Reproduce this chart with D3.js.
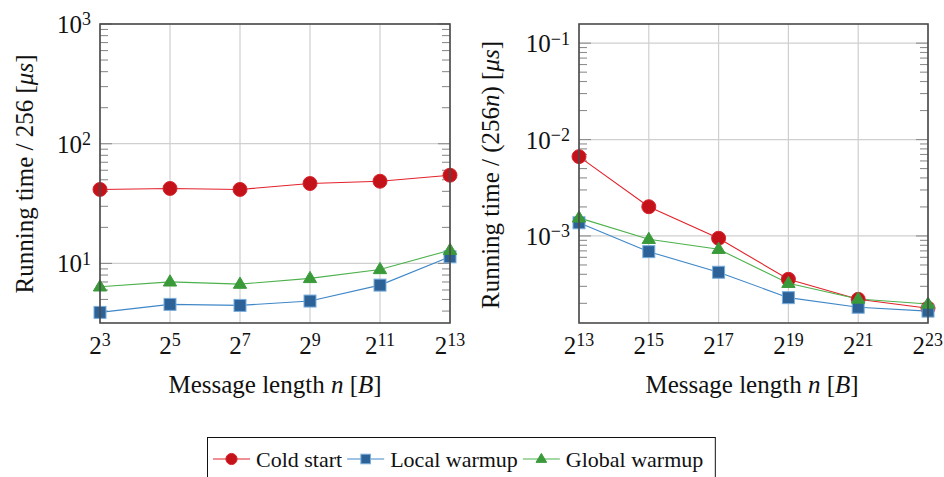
<!DOCTYPE html>
<html>
<head>
<meta charset="utf-8">
<script src="https://cdn.jsdelivr.net/npm/d3@7"></script>
<style>
  html, body { margin: 0; padding: 0; background: #fff; }
  svg { display: block; }
</style>
</head>
<body>
<svg id="chart" width="944" height="477"></svg>
<script>
// Series names
const seriesNames = ["Cold start", "Local warmup", "Global warmup"];

// Left panel: short messages, time per 256 messages [µs]
const leftSizes = [8, 32, 128, 512, 2048, 8192];
const leftCold   = [41.5, 42.3, 41.5, 46.5, 48.6, 54.6];
const leftLocal  = [3.90, 4.55, 4.46, 4.85, 6.59, 11.35];
const leftGlobal = [6.38, 7.02, 6.72, 7.50, 8.91, 12.9];
const leftYTicks = [1, 2, 3];            // exponents of 10
const leftXTicks = [3, 5, 7, 9, 11, 13]; // exponents of 2

// Right panel: long messages, time per (256·n) [µs]
const rightSizes = [8192, 32768, 131072, 524288, 2097152, 8388608];
const rightCold   = [6.65e-3, 2.01e-3, 9.46e-4, 3.55e-4, 2.20e-4, 1.78e-4];
const rightLocal  = [1.37e-3, 6.87e-4, 4.20e-4, 2.29e-4, 1.82e-4, 1.66e-4];
const rightGlobal = [1.54e-3, 9.24e-4, 7.28e-4, 3.23e-4, 2.22e-4, 1.97e-4];
const rightYTicks = [-3, -2, -1];
const rightXTicks = [13, 15, 17, 19, 21, 23];

const styles = [
  { line: "#e3222b", fill: "#c4121b", stroke: "#d9262e", shape: "circle" },
  { line: "#3f87c8", fill: "#2c6298", stroke: "#7aaedc", shape: "square" },
  { line: "#4cb14c", fill: "#3a9a3a", stroke: "#3a9a3a", shape: "triangle" }
];

const FONT = "Liberation Serif";
const svg = d3.select("#chart").style("font-family", `"${FONT}"`);
const FS = 25;

function styleText(sel, size) {
  return sel.style("font-family", `"${FONT}"`).attr("font-size", size).attr("fill", "#111");
}

function marker(g, shape, st, x, y, k) {
  k = k || 1;
  if (shape === "circle") {
    g.append("circle").attr("cx", x).attr("cy", y).attr("r", 7 * k)
      .attr("fill", st.fill).attr("stroke", st.stroke).attr("stroke-width", 1);
  } else if (shape === "square") {
    const h = 6 * k;
    g.append("rect").attr("x", x - h).attr("y", y - h).attr("width", 2 * h).attr("height", 2 * h)
      .attr("fill", st.fill).attr("stroke", st.stroke).attr("stroke-width", 1);
  } else {
    const s = 7 * k;
    g.append("path")
      .attr("d", `M${x},${y - s}L${x + s * 0.95},${y + s * 0.6}L${x - s * 0.95},${y + s * 0.6}Z`)
      .attr("fill", st.fill).attr("stroke", st.stroke).attr("stroke-width", 1);
  }
}

function powerLabel(sel, base, exp, anchor) {
  sel.attr("text-anchor", anchor);
  sel.append("tspan").text(base);
  sel.append("tspan").attr("dy", "-0.42em").attr("font-size", FS * 0.72).text(exp);
}

function panel(opts) {
  const { x0, x1, y0, y1, xDomain, yDomain, sizes, series, yExps, xExps, ylabel, xtitleX } = opts;
  const x = d3.scaleLog().base(2).domain(xDomain).range([x0, x1]);
  const y = d3.scaleLog().base(10).domain(yDomain).range([y1, y0]);
  const g = svg.append("g");

  // grid
  g.selectAll(null).data(sizes).enter().append("line")
    .attr("x1", d => x(d)).attr("x2", d => x(d)).attr("y1", y0).attr("y2", y1)
    .attr("stroke", "#cfcfcf").attr("stroke-width", 1.2);
  g.selectAll(null).data(yExps).enter().append("line")
    .attr("x1", x0).attr("x2", x1).attr("y1", d => y(Math.pow(10, d))).attr("y2", d => y(Math.pow(10, d)))
    .attr("stroke", "#cfcfcf").attr("stroke-width", 1.2);

  // minor ticks on both vertical sides
  const lo = Math.floor(Math.log10(yDomain[0])), hi = Math.ceil(Math.log10(yDomain[1]));
  const minors = [];
  for (let e = lo; e < hi; e++) {
    for (let m = 2; m <= 9; m++) {
      const v = m * Math.pow(10, e);
      if (v >= yDomain[0] && v <= yDomain[1]) minors.push(v);
    }
  }
  [[x0, 8], [x1, -8]].forEach(([xx, len]) => {
    g.selectAll(null).data(minors).enter().append("line")
      .attr("x1", xx).attr("x2", xx + len).attr("y1", d => y(d)).attr("y2", d => y(d))
      .attr("stroke", "#8e8e8e").attr("stroke-width", 1.1);
    g.selectAll(null).data(yExps).enter().append("line")
      .attr("x1", xx).attr("x2", xx + len * 1.5).attr("y1", d => y(Math.pow(10, d))).attr("y2", d => y(Math.pow(10, d)))
      .attr("stroke", "#8e8e8e").attr("stroke-width", 1.1);
  });

  // series lines, then markers on top
  series.forEach((vals, i) => {
    const st = styles[i];
    const pts = sizes.map((s, j) => [x(s), y(vals[j])]);
    g.append("path").attr("d", d3.line()(pts)).attr("fill", "none")
      .attr("stroke", st.line).attr("stroke-width", 1.1);
  });
  series.forEach((vals, i) => {
    const st = styles[i];
    sizes.forEach((s, j) => marker(g, st.shape, st, x(s), y(vals[j])));
  });

  // frame
  g.append("rect").attr("x", x0).attr("y", y0).attr("width", x1 - x0).attr("height", y1 - y0)
    .attr("fill", "none").attr("stroke", "#4a4a4a").attr("stroke-width", 1.6);

  // x tick labels, kept inside the page
  sizes.forEach((s, j) => {
    const t = styleText(g.append("text"), FS).attr("x", x(s)).attr("y", y1 + 31);
    powerLabel(t, "2", String(xExps[j]), "middle");
    const bb = t.node().getBBox();
    if (bb.x + bb.width > 943) t.attr("x", x(s) - (bb.x + bb.width - 943));
  });
  // y tick labels
  yExps.forEach(e => {
    const t = styleText(g.append("text"), FS).attr("x", x0 - 9).attr("y", y(Math.pow(10, e)) + 9);
    powerLabel(t, "10", e < 0 ? "\u2212" + Math.abs(e) : String(e), "end");
  });

  // axis titles
  const xt = styleText(g.append("text"), FS).attr("x", xtitleX).attr("y", 393)
    .attr("text-anchor", "middle");
  xt.append("tspan").text("Message length ");
  xt.append("tspan").attr("font-style", "italic").text("n");
  xt.append("tspan").text(" [");
  xt.append("tspan").attr("font-style", "italic").text("B");
  xt.append("tspan").text("]");

  const yt = styleText(g.append("text"), FS)
    .attr("transform", `translate(${ylabel.x},${ylabel.y}) rotate(-90)`)
    .attr("text-anchor", "middle");
  ylabel.parts.forEach(p => yt.append("tspan").attr("font-style", p[1] ? "italic" : null).text(p[0]));
}

panel({
  x0: 100, x1: 450, y0: 24, y1: 323,
  xDomain: [8, 8192], yDomain: [3.18, 1000],
  sizes: leftSizes, series: [leftCold, leftLocal, leftGlobal],
  yExps: leftYTicks, xExps: leftXTicks, xtitleX: 275,
  ylabel: { x: 33, y: 174, parts: [["Running time / 256 [", false], ["\u03bcs", true], ["]", false]] }
});

panel({
  x0: 579, x1: 928, y0: 24, y1: 323,
  xDomain: [8192, 8388608], yDomain: [1.25e-4, 0.158],
  sizes: rightSizes, series: [rightCold, rightLocal, rightGlobal],
  yExps: rightYTicks, xExps: rightXTicks, xtitleX: 752,
  ylabel: { x: 499, y: 175, parts: [["Running time / (256", false], ["n", true], [") [", false], ["\u03bcs", true], ["]", false]] }
});

// legend: entries laid out one after another inside a framed box
const LFS = 22;
const lg = svg.append("g");
const box = lg.append("rect").attr("x", 207.5).attr("y", 437.5).attr("height", 50)
  .attr("fill", "#fff").attr("stroke", "#111").attr("stroke-width", 1);
const legendY = 459;
let cx = 213;
seriesNames.forEach((name, i) => {
  const st = styles[i];
  lg.append("line").attr("x1", cx).attr("x2", cx + 37).attr("y1", legendY).attr("y2", legendY)
    .attr("stroke", st.line).attr("stroke-width", 1.1);
  marker(lg, st.shape, st, cx + 18.5, legendY, 0.8);
  const t = styleText(lg.append("text"), LFS).attr("x", cx + 43).attr("y", legendY + 8).text(name);
  cx += 43 + t.node().getComputedTextLength() + 5;
});
box.attr("width", cx - 207.5 + 7);
</script>
</body>
</html>
